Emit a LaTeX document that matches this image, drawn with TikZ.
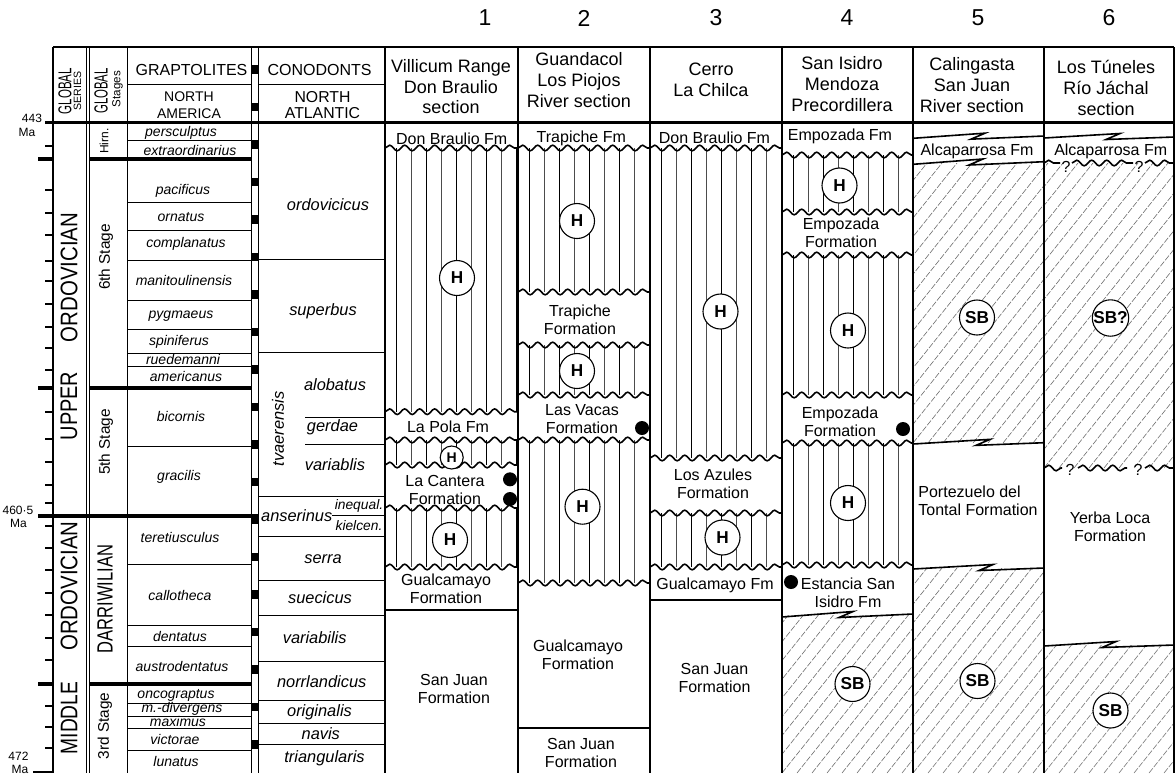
\documentclass[tikz,border=0pt]{standalone}
\usepackage{graphicx}
\usepackage{fontspec}
\setmainfont{Liberation Sans}
\usetikzlibrary{decorations.pathmorphing}

% vertical ruling of a unit: x1,y1,x2,y2
\newcommand{\vhatch}[4]{%
  \begin{scope}
    \clip (#1,#2) rectangle (#3,#4);
    \foreach \i in {0,2,...,8}
      \draw[line width=0.45pt] (#1+11+15*\i,#2) -- (#1+11+15*\i,#4);
    \foreach \i in {1,3,...,7}
      \draw[line width=0.25pt,black!70] (#1+11+15*\i,#2) -- (#1+11+15*\i,#4);
  \end{scope}}
% oblique ruling of a unit: x1,y1,x2,y2
\newcommand{\dhatch}[4]{%
  \begin{scope}
    \clip (#1,#2) rectangle (#3,#4);
    \foreach \i in {-24,...,9}
      \draw[line width=0.3pt,black!55,dash pattern=on 3pt off 0.8pt] (#1+15*\i,#4) -- ++(320,-400);
  \end{scope}}
% interfingering contact: xL,yL,xR,yR,xmid
\newcommand{\finger}[5]{%
  \draw[line width=0.8pt] (#1,#2) -- (#5+8,{(#2+#4)/2-4}) -- (#5-6,{(#2+#4)/2+2}) -- (#3,#4);}

\begin{document}
\begin{tikzpicture}[x=0.5pt,y=-0.5pt,
  zone/.style={font=\fontsize{7}{8}\selectfont\itshape,inner sep=0pt},
  cono/.style={font=\fontsize{8.2}{9}\selectfont\itshape,inner sep=0pt},
  fm/.style={font=\fontsize{8}{9}\selectfont,align=center,inner sep=0pt},
  hdr/.style={font=\fontsize{9}{10.4}\selectfont,align=center,inner sep=0pt},
  num/.style={font=\fontsize{11.5}{12}\selectfont,inner sep=0pt},
  age/.style={font=\fontsize{6}{7}\selectfont,inner sep=0pt},
  vert/.style={rotate=90,inner sep=0pt},
  fossil/.style={circle,draw,fill=white,line width=0.55pt,minimum size=17.5pt,inner sep=0pt,font=\fontsize{8.6}{9}\selectfont\bfseries},
  dot/.style={circle,fill=black,minimum size=7pt,inner sep=0pt},
  wavy/.style={line width=0.8pt,decorate,decoration={snake,segment length=7.5pt,amplitude=1.4pt}},
  border/.style={line width=0.9pt},
  zoneline/.style={line width=0.5pt},
  stagebnd/.style={line width=2pt}]

\useasboundingbox[fill=white] (0,0) rectangle (1176,773);

% ruled units
\vhatch{385}{148}{518}{411.7}
\vhatch{385}{440}{518}{465}
\vhatch{385}{508}{518}{567}
\vhatch{518}{148}{650}{292}
\vhatch{518}{345}{650}{395}
\vhatch{518}{440}{650}{583}
\vhatch{650}{148}{782}{458}
\vhatch{650}{513}{782}{567}
\vhatch{782}{155}{913}{212}
\vhatch{782}{255}{913}{395}
\vhatch{782}{443}{913}{565}
\dhatch{782}{615}{913}{773}
\dhatch{913}{163}{1044}{443}
\dhatch{913}{568}{1044}{773}
\dhatch{1044}{163}{1174}{468}
\dhatch{1044}{645}{1174}{773}

% frame
\draw[border] (53,47) -- (1174,47);
\draw[line width=1.5pt] (45,122) -- (1174,122);
\foreach \x in {53,385,518,650,782,913,1044,1174}
  \draw[border] (\x,47) -- (\x,773);
\foreach \x in {86,89,127,251,258}
  \draw[zoneline] (\x,47) -- (\x,773);
\draw[zoneline] (127,84) -- (251,84) (258,84) -- (385,84);

% graptolite zones and stage boundaries
\foreach \y in {140.7,202.7,230,260.7,300.7,329,353,366.7,446.7,564,625,646.3,703.3,716,728.3,750.7}
  \draw[zoneline] (127,\y) -- (251,\y);
\foreach \y in {159,387.5,684}
  \draw[stagebnd] (38,\y) -- (53,\y) (89,\y) -- (251,\y);
\draw[stagebnd] (38,515.7) -- (258,515.7);

% conodont zones
\foreach \y in {259.3,352,496.7,536,580,615,661,700,723.3,744}
  \draw[zoneline] (258,\y) -- (385,\y);
\draw[zoneline] (305,417.7) -- (385,417.7) (305,444.3) -- (385,444.3) (332,515.7) -- (385,515.7);

% scale bar
\foreach \k in {0,...,18}
  \fill (251,65+37.5*\k) rectangle (258,73.5+37.5*\k);

% time ticks
\foreach \y in {146,190,213,235,261,281,304,327,348,370,412,439,462,485,503,526,548,570,593,615,638,660,706,727,748}
  \draw[line width=0.6pt] (45,\y) -- (53,\y);
\draw[line width=0.8pt] (33,772) -- (53,772);
\node[age] (a443) at (32,118) {443};
\node[age] (m443) at (27,132) {Ma};
\node[age] (a460) at (18,510) {460·5};
\node[age] (m460) at (18.5,523) {Ma};
\node[age] (a472) at (18.5,756) {472};
\node[age] (m472) at (20,769) {Ma};

% column numbers
\foreach \x/\n in {485/1,584/2,716/3,847/4,978/5,1109/6}
  \node[num] (n\n) at (\x,18) {\n};

% headers
\node[vert,font=\fontsize{9.3}{10}\selectfont] (gser) at (65,91) {\scalebox{0.62}[1]{GLOBAL}};
\node[vert,font=\fontsize{5.3}{6}\selectfont] (gser2) at (77.5,91) {SERIES};
\node[vert,font=\fontsize{9.5}{10}\selectfont] (gsta) at (101,91) {\scalebox{0.6}[1]{GLOBAL}};
\node[vert,font=\fontsize{5.8}{6}\selectfont] (gsta2) at (117.5,89) {Stages};
\node[font=\fontsize{8}{9}\selectfont,inner sep=0pt] (grap) at (191.5,70) {GRAPTOLITES};
\node[font=\fontsize{8}{9}\selectfont,inner sep=0pt] (cono) at (319.5,70) {CONODONTS};
\node[font=\fontsize{7}{8.2}\selectfont,align=center,inner sep=0pt] (nam) at (189,105) {NORTH\\AMERICA};
\node[font=\fontsize{7.9}{8.2}\selectfont,align=center,inner sep=0pt] (nat) at (322.5,105) {NORTH\\ATLANTIC};
\node[hdr] (h1) at (451,86.7) {Villicum Range\\Don Braulio\\section};
\node[hdr] (h2) at (579,80) {Guandacol\\Los Piojos\\River section};
\node[hdr] (h3) at (711,79.5) {Cerro\\La Chilca};
\node[hdr] (h4) at (842,84) {San Isidro\\Mendoza\\Precordillera};
\node[hdr] (h5) at (972,85) {Calingasta\\San Juan\\River section};
\node[hdr] (h6) at (1106,88) {Los Túneles\\Río Jáchal\\section};

% series and stages
\node[vert,font=\fontsize{12}{12}\selectfont] (upper) at (69,406) {\scalebox{0.83}[1]{UPPER}};
\node[vert,font=\fontsize{12}{12}\selectfont] (ordu) at (69,277.5) {\scalebox{0.85}[1]{ORDOVICIAN}};
\node[vert,font=\fontsize{12}{12}\selectfont] (middle) at (69,718) {\scalebox{0.8}[1]{MIDDLE}};
\node[vert,font=\fontsize{12}{12}\selectfont] (ordm) at (69,586) {\scalebox{0.85}[1]{ORDOVICIAN}};
\node[vert,font=\fontsize{6}{7}\selectfont] (hirn) at (104,141) {Hirn.};
\node[vert,font=\fontsize{7.7}{8}\selectfont] (st6) at (106,257) {6th Stage};
\node[vert,font=\fontsize{7.7}{8}\selectfont] (st5) at (106,442) {5th Stage};
\node[vert,font=\fontsize{11}{12}\selectfont] (darr) at (105,599) {\scalebox{0.75}[1]{DARRIWILIAN}};
\node[vert,font=\fontsize{7.7}{8}\selectfont] (st3) at (105,726) {3rd Stage};

% graptolite zones
\foreach \x/\y/\t [count=\i] in {181/132.7/persculptus,190/150/extraordinarius,183/191/pacificus,
  181/217/ornatus,186/244/complanatus,184/280.7/manitoulinensis,181/316/pygmaeus,
  179/341.7/spiniferus,183/359.3/ruedemanni,186/376/americanus,181/416.7/bicornis,
  179/477.3/gracilis,180/537.3/teretiusculus,180/595/callotheca,180/636/dentatus,
  182/666.7/austrodentatus,176/695/oncograptus,182/709/m.-divergens,178/721.7/maximus,
  175/739.3/victorae,176/761.7/lunatus}
  \node[zone] (g\i) at (\x,\y) {\t};

% conodont zones
\foreach \x/\y/\t [count=\i] in {328/205/ordovicicus,323/311.7/superbus,335/385/alobatus,
  332.5/427.3/gerdae,335/465/variablis,296.7/516/anserinus,323/559.3/serra,
  320/597.7/suecicus,314.7/637.7/variabilis,321.7/681.7/norrlandicus,
  319.5/712.3/originalis,320.8/733.3/navis,324.5/758.3/triangularis}
  \node[cono] (c\i) at (\x,\y) {\t};
\node[cono,font=\fontsize{6.9}{8}\selectfont\itshape] (ineq) at (359,506) {inequal.};
\node[cono,font=\fontsize{6.9}{8}\selectfont\itshape] (kiel) at (359,526) {kielcen.};
\node[cono,vert] (tvae) at (278,429) {tvaerensis};

% unconformities
\foreach \xa/\xb/\y in {385/518/148,385/518/411.7,385/518/440,385/518/465,385/518/508,385/518/567,
  518/650/148,518/650/292,518/650/345,518/650/395,518/650/440,518/650/583,
  650/782/148,650/782/458,650/782/513,650/782/567,
  782/913/155,782/913/212,782/913/255,782/913/395,782/913/443,782/913/565,
  1044/1060/163,1072/1133/163,1145/1174/163,1044/1062/468,1078/1127/468,1145/1174/468}
  \draw[wavy] (\xa,\y) -- (\xb,\y);

% conformable and interfingering contacts
\draw[line width=0.8pt] (385,610) -- (518,610) (518,728) -- (650,728) (650,600) -- (782,600);
\finger{782}{617}{913}{614}{845}
\finger{913}{138.3}{1044}{136}{977}
\finger{913}{164.3}{1044}{161.7}{975}
\finger{913}{444}{1044}{442.7}{982}
\finger{913}{569}{1044}{568}{985}
\finger{1044}{138}{1174}{137}{1112}
\finger{1044}{646}{1174}{645}{1108}
\node[fm] (q1) at (1066,167) {?};
\node[fm] (q2) at (1139,167) {?};
\node[fm] (q3) at (1070,470) {?};
\node[fm] (q4) at (1138,470) {?};

% formations
\node[fm] (f1a) at (451.7,138.3) {Don Braulio Fm};
\node[fm] (f1b) at (448,426.7) {La Pola Fm};
\node[fm] (f1c) at (445,490) {La Cantera\\Formation};
\node[fm] (f1d) at (446,589) {Gualcamayo\\Formation};
\node[fm] (f1e) at (454,688.5) {San Juan\\Formation};
\node[fm] (f2a) at (581.3,138) {Trapiche Fm};
\node[fm] (f2b) at (580,320) {Trapiche\\Formation};
\node[fm] (f2c) at (582,419) {Las Vacas\\Formation};
\node[fm] (f2d) at (578,654.5) {Gualcamayo\\Formation};
\node[fm] (f2e) at (581,752.5) {San Juan\\Formation};
\node[fm] (f3a) at (714.5,138) {Don Braulio Fm};
\node[fm] (f3b) at (713,483.5) {Los Azules\\Formation};
\node[fm] (f3c) at (715,585) {Gualcamayo Fm};
\node[fm] (f3d) at (714.5,677.5) {San Juan\\Formation};
\node[fm] (f4a) at (840,136.7) {Empozada Fm};
\node[fm] (f4b) at (841,233) {Empozada\\Formation};
\node[fm] (f4c) at (840,422) {Empozada\\Formation};
\node[fm] (f4d) at (848,593) {Estancia San\\Isidro Fm};
\node[fm] (f5a) at (977,151.7) {Alcaparrosa Fm};
\node[fm,align=left,anchor=west] (f5b) at (918,501) {Portezuelo del\\Tontal Formation};
\node[fm] (f6a) at (1110.7,151.7) {Alcaparrosa Fm};
\node[fm] (f6b) at (1110,527) {Yerba Loca\\Formation};

% fossil content
\foreach \x/\y/\t [count=\i] in {457/278/H,450/540/H,577/221/H,577/371/H,582.5/506.7/H,
  720.5/311.5/H,722.5/537.5/H,839.5/185.5/H,848/330.5/H,848/503/H,
  852.5/684/SB,977/317.5/SB,977.5/681/SB,1110.5/318/SB?,1110.5/710.5/SB}
  \node[fossil] (fo\i) at (\x,\y) {\t};
\node[fossil,minimum size=11.5pt,font=\fontsize{7}{7}\selectfont\bfseries] (fo16) at (451.7,457.5) {H};
\foreach \x/\y [count=\i] in {510/479.3,510/499,642/428,903/429,791/582}
  \node[dot] (d\i) at (\x,\y) {};

\end{tikzpicture}
\end{document}
